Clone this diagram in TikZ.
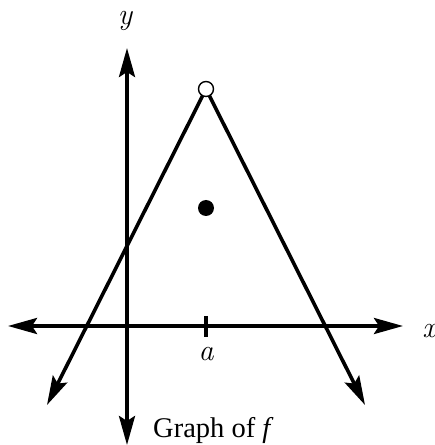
\documentclass[tikz,border=0pt]{standalone}
\usepackage{fontspec}
\newfontfamily\capfont{Liberation Serif}
\usetikzlibrary{arrows.meta}
\begin{document}
\begin{tikzpicture}[x=1pt,y=1pt,
  ax/.style={line width=3.6pt,-{Stealth[length=29pt,width=16pt,inset=5pt]}},
  lbl/.style={inner sep=0pt,font=\itshape\fontsize{30}{34}\selectfont}]
\useasboundingbox (0,0) rectangle (435,445);
\coordinate (ytop) at (127,397);
\coordinate (ybot) at (127,0);
\coordinate (xl) at (8,119);
\coordinate (xr) at (403,119);
\coordinate (peak) at (206,356);
\coordinate (ltip) at (47,40);
\coordinate (rtip) at (365,40);
\coordinate (ta) at (206,129);
\coordinate (tb) at (206,108);
\draw[ax] (127,119) -- (ytop);
\draw[ax] (127,119) -- (ybot);
\draw[ax] (127,119) -- (xl);
\draw[ax] (127,119) -- (xr);
\draw[line width=3.2pt] (ta) -- (tb);
\draw[ax] (peak) -- (ltip);
\draw[ax] (peak) -- (rtip);
\node[circle,draw,fill=white,line width=1.4pt,minimum size=15pt,inner sep=0pt] (open) at (peak) {};
\node[circle,fill=black,minimum size=16pt,inner sep=0pt] (dot) at (206,237) {};
\node[lbl] (la) at (206,91) {a};
\node[lbl] (lx) at (429,114) {x};
\node[lbl] (ly) at (125,424) {y};
\node[inner sep=0pt,anchor=base west,font=\capfont\fontsize{28.5}{32}\selectfont] (cap) at (153,7) {Graph of \textit{f}};
\end{tikzpicture}
\end{document}
